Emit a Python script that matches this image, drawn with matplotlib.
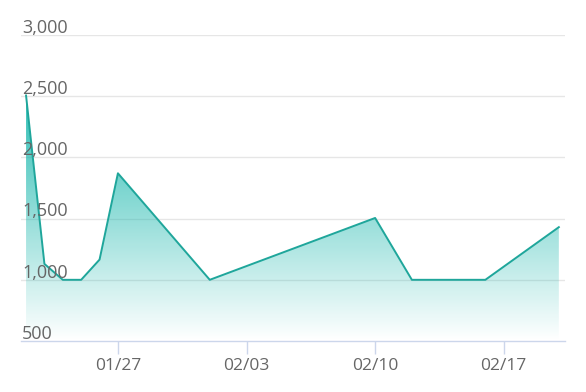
import numpy as np
import pandas as pd
import matplotlib
matplotlib.use("Agg")
import matplotlib.pyplot as plt
import matplotlib.dates as mdates
from matplotlib.colors import LinearSegmentedColormap

plt.rcParams['font.family'] = ['Open Sans', 'DejaVu Sans']

# data
dates = ["2021-01-22", "2021-01-23", "2021-01-24", "2021-01-25", "2021-01-26",
         "2021-01-27", "2021-02-01", "2021-02-10", "2021-02-12", "2021-02-16",
         "2021-02-20"]
values = [2505, 1130, 1000, 1000, 1165, 1870, 1000, 1505, 1000, 1000, 1430]

x_ticks = ["2021-01-27", "2021-02-03", "2021-02-10", "2021-02-17"]
x_tick_labels = ["01/27", "02/03", "02/10", "02/17"]
y_ticks = [500, 1000, 1500, 2000, 2500, 3000]
y_tick_labels = ["500", "1,000", "1,500", "2,000", "2,500", "3,000"]

line_color = "#1fa69b"
label_color = "#666666"

x = mdates.date2num(pd.to_datetime(dates))
xt = mdates.date2num(pd.to_datetime(x_ticks))

fig = plt.figure(figsize=(5.86, 3.92), dpi=100)
ax = fig.add_axes([0.036, 0.130, 0.928, 0.781])

ax.set_xlim(x[0] - 0.27, x[-1] + 0.33)
ax.set_ylim(y_ticks[0], y_ticks[-1])

# gradient fill under the line
poly = ax.fill_between(x, values, y_ticks[0], color="none", lw=0)
cmap = LinearSegmentedColormap.from_list(
    "g", [(0.10, 0.72, 0.68, 0.0), (0.10, 0.72, 0.68, 0.92)])
grad = np.linspace(0, 1, 256).reshape(-1, 1)
img = ax.imshow(grad, cmap=cmap, aspect="auto", origin="lower",
                extent=[x[0], x[-1], y_ticks[0], max(values)], zorder=1)
img.set_clip_path(poly.get_paths()[0], transform=ax.transData)

ax.plot(x, values, color=line_color, lw=1.4, zorder=3)

# grid and axes
for v in y_ticks[1:]:
    ax.axhline(v, color="#e6e6e6", lw=1, zorder=0)
for s in ["top", "right", "left"]:
    ax.spines[s].set_visible(False)
ax.spines["bottom"].set_color("#ccd6eb")
ax.spines["bottom"].set_linewidth(1)

ax.set_yticks([])
for v, lab in zip(y_ticks, y_tick_labels):
    ax.text(0.002, v + 18, lab, transform=ax.get_yaxis_transform(),
            ha="left", va="baseline", fontsize=13, color=label_color, zorder=4)

ax.set_xticks(xt)
ax.set_xticklabels(x_tick_labels)
ax.tick_params(axis="x", length=9, width=1, color="#ccd6eb", pad=3,
               labelsize=12.5, labelcolor=label_color)

fig.savefig("out.png", dpi=100)
